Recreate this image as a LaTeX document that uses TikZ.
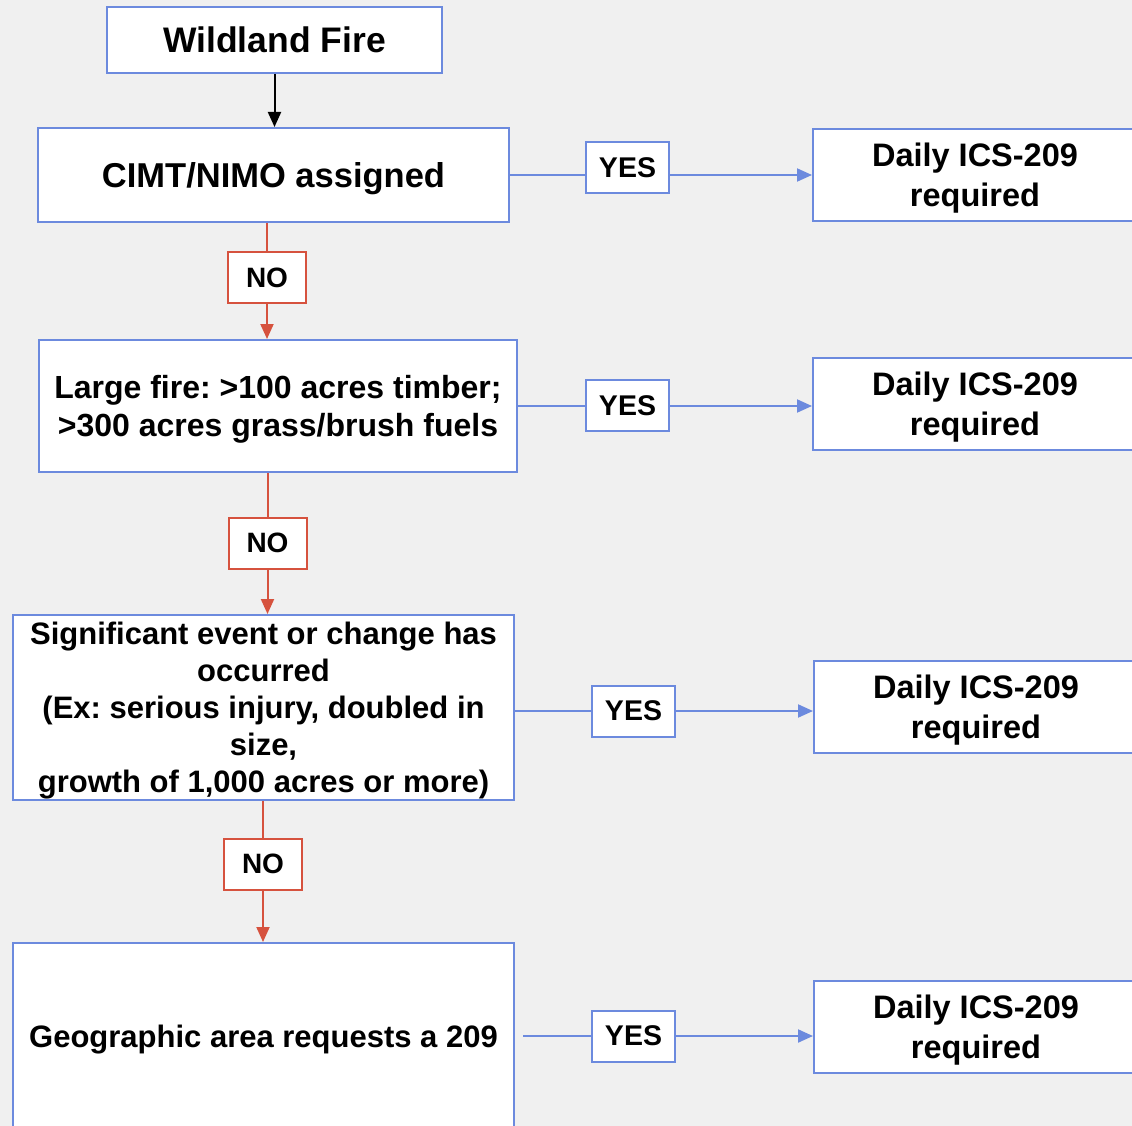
\documentclass[tikz,border=0pt]{standalone}
\usepackage{fontspec}
\setmainfont{Liberation Sans}
\frenchspacing
\usetikzlibrary{arrows.meta,positioning}
\definecolor{boxblue}{RGB}{108,138,222}
\definecolor{nored}{RGB}{214,82,62}
\definecolor{bggray}{RGB}{240,240,240}
\tikzset{>={Triangle[length=15pt,width=13pt]}}
\tikzset{
  box/.style={draw=boxblue,fill=white,line width=2pt,inner sep=0pt,align=center,text depth=0pt,
    font=\fontsize{31}{37}\selectfont\bfseries},
  daily/.style={box,minimum width=324pt,minimum height=92pt,font=\fontsize{32.5}{40}\selectfont\bfseries},
  yesbox/.style={box,minimum width=83pt,minimum height=51pt,font=\fontsize{28.5}{30}\selectfont\bfseries},
  nobox/.style={yesbox,draw=nored,minimum width=78pt,font=\fontsize{28}{30}\selectfont\bfseries},
  yesline/.style={draw=boxblue,line width=2pt},
  noline/.style={draw=nored,line width=2pt}
}
\begin{document}
\begin{tikzpicture}[x=1pt,y=-1pt]
    \fill[bggray] (0,0) rectangle (1132,1126);
    \clip (0,0) rectangle (1132,1126);
    \useasboundingbox (0,0) rectangle (1132,1126);

    % left column
    \node[box,minimum width=335pt,minimum height=66pt,font=\fontsize{35.5}{40}\selectfont\bfseries] (fire) at (274.5,40) {Wildland Fire};
    \node[box,minimum width=471pt,minimum height=94pt,font=\fontsize{34.5}{40}\selectfont\bfseries] (cimt) at (273.5,175) {CIMT/NIMO assigned};
    \node[box,minimum width=478pt,minimum height=132pt,font=\fontsize{32}{38}\selectfont\bfseries] (large) at (278,406) {Large fire: >100 acres timber;\\>300 acres grass/brush fuels};
    \node[box,minimum width=501pt,minimum height=185pt] (signif) at (263.5,707.5) {Significant event or change has\\occurred\\(Ex: serious injury, doubled in\\size,\\growth of 1,000 acres or more)};
    \node[box,minimum width=501pt,minimum height=186pt] (geo) at (263.5,1036) {Geographic area requests a 209};

    % NO labels
    \node[nobox] (no1) at (267,277.5) {NO};
    \node[nobox] (no2) at (267.5,543) {NO};
    \node[nobox] (no3) at (263,864) {NO};

    % YES labels
    \node[yesbox] (yes1) at (627.5,167.5) {YES};
    \node[yesbox] (yes2) at (627.5,405.5) {YES};
    \node[yesbox] (yes3) at (633.5,711) {YES};
    \node[yesbox] (yes4) at (633.5,1036) {YES};

    % right column
    \node[daily] (daily1) at (975,175) {Daily ICS-209\\required};
    \node[daily] (daily2) at (975,404) {Daily ICS-209\\required};
    \node[daily] (daily3) at (976,707) {Daily ICS-209\\required};
    \node[daily] (daily4) at (976,1027) {Daily ICS-209\\required};

    \draw[->,line width=2pt] (fire.south) -- (fire.south |- cimt.north);

    % NO branches
    \path[noline] (cimt.south -| no1) -- (no1.north);
    \path[noline,->] (no1.south) -- (no1.south |- large.north);
    \path[noline] (large.south -| no2) -- (no2.north);
    \path[noline,->] (no2.south) -- (no2.south |- signif.north);
    \path[noline] (signif.south -| no3) -- (no3.north);
    \path[noline,->] (no3.south) -- (no3.south |- geo.north);

    % YES branches
    \path[yesline] (cimt.east) -- (cimt.east -| yes1.west);
    \path[yesline,->] (yes1.east |- cimt.east) -- (daily1.west);
    \path[yesline] (large.east) -- (large.east -| yes2.west);
    \path[yesline,->] (yes2.east |- large.east) -- (large.east -| daily2.west);
    \path[yesline] (signif.east |- yes3) -- (yes3.west);
    \path[yesline,->] (yes3.east) -- (yes3.east -| daily3.west);
    \path[yesline] ([xshift=8pt]geo.east) -- (yes4.west);
    \path[yesline,->] (yes4.east) -- (yes4.east -| daily4.west);
\end{tikzpicture}
\end{document}
